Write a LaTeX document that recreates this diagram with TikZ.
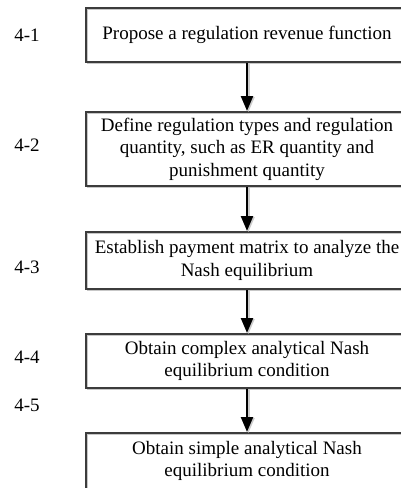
\documentclass[tikz,border=0pt]{standalone}
\usepackage{fontspec}
\setmainfont{Liberation Serif}
\usetikzlibrary{arrows.meta}
\definecolor{boxgray}{HTML}{3C3C3C}
\begin{document}
\begin{tikzpicture}[x=1pt,y=-1pt,
  box/.style={draw=boxgray, line width=2pt, minimum width=322pt, align=center,
    inner sep=0pt, font=\fontsize{19}{22.5}\selectfont,
    preaction={draw=black!22, line width=1.5pt, transform canvas={shift={(1.5pt,-1.5pt)}}}},
  lab/.style={font=\fontsize{19}{22.5}\selectfont},
  flow/.style={-{Triangle[width=12pt,length=15pt]}, line width=2.4pt, black},
  flowshadow/.style={-{Triangle[width=12pt,length=15pt]}, line width=2.4pt, black!20}]
\useasboundingbox (0,0) rectangle (400,488);
\node[box, minimum height=54pt] (b1) at (247,35) {Propose a regulation revenue function};
\node[box, minimum height=74pt] (b2) at (247,149) {Define regulation types and regulation\\quantity, such as ER quantity and\\punishment quantity};
\node[box, minimum height=57pt] (b3) at (247,260.5) {Establish payment matrix to analyze the\\Nash equilibrium};
\node[box, minimum height=54pt] (b4) at (247,361) {Obtain complex analytical Nash\\equilibrium condition};
\node[box, minimum height=56pt] (b5) at (247,461) {Obtain simple analytical Nash\\equilibrium condition};
\node[lab] (l1) at (27,35) {4-1};
\node[lab] (l2) at (27,145) {4-2};
\node[lab] (l3) at (27,267) {4-3};
\node[lab] (l4) at (27,357) {4-4};
\node[lab] (l5) at (27,405) {4-5};
\begin{scope}[transform canvas={shift={(1.5pt,-1pt)}}]
\draw[flowshadow] (b1) -- (b2);
\draw[flowshadow] (b2) -- (b3);
\draw[flowshadow] (b3) -- (b4);
\draw[flowshadow] (b4) -- (b5);
\end{scope}
\draw[flow] (b1) -- (b2);
\draw[flow] (b2) -- (b3);
\draw[flow] (b3) -- (b4);
\draw[flow] (b4) -- (b5);
\end{tikzpicture}
\end{document}
